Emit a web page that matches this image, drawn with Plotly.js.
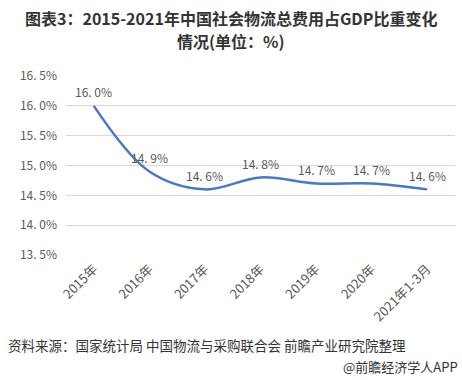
<!DOCTYPE html>
<html><head><meta charset="utf-8">
<script src="https://cdn.plot.ly/plotly-3.0.1.min.js"></script>
<style>body{margin:0;background:#fff}#c{width:462px;height:380px}</style>
</head><body><div id="c"></div>
<script>
const categories = ["2015年","2016年","2017年","2018年","2019年","2020年","2021年1-3月"];
const values = [16.0, 14.9, 14.6, 14.8, 14.7, 14.7, 14.6];
const tickVals = [13.5, 14.0, 14.5, 15.0, 15.5, 16.0, 16.5];
const tickText = ["13. 5%","14. 0%","14. 5%","15. 0%","15. 5%","16. 0%","16. 5%"];
const labels = values.map(v => v.toFixed(1).replace('.', '. ') + '%');

const font = "'Noto Sans CJK SC', 'Liberation Sans', sans-serif";
const trace = {
  x: categories, y: values, type: 'scatter', mode: 'lines',
  line: {shape: 'spline', smoothing: 1, color: '#4a78c2', width: 2.5},
  hoverinfo: 'none'
};
const H = 179; // plot height in px
const py = px => (380 - 125 - px) / H;
const dataLabels = categories.map((c, i) => ({
  x: c, y: values[i], xref: 'x', yref: 'y', text: labels[i], showarrow: false,
  yshift: 14, yanchor: 'middle', font: {family: font, size: 12, color: '#595959'}
}));
const layout = {
  width: 462, height: 380,
  margin: {l: 66, r: 7, t: 76, b: 125},
  paper_bgcolor: '#fff', plot_bgcolor: '#fff',
  showlegend: false,
  xaxis: {type: 'category', range: [-0.5, 6.5], showgrid: false, zeroline: false, showline: false,
    ticks: '', tickangle: -45, ticklabelstandoff: 3,
    tickfont: {family: font, size: 13, color: '#595959'}, fixedrange: true},
  yaxis: {range: [13.5, 16.5], tickvals: tickVals, ticktext: tickText, showgrid: true,
    gridcolor: '#d9d9d9', gridwidth: 1, zeroline: false, showline: false, ticks: '', ticklen: 0,
    ticklabelstandoff: 8,
    tickfont: {family: font, size: 12, color: '#595959'}, fixedrange: true},
  annotations: dataLabels.concat([
    {text: '<b>图表3：2015-2021年中国社会物流总费用占GDP比重变化</b>', xref: 'paper', yref: 'paper',
     x: (231 - 66) / 389, xanchor: 'center', y: py(18), yanchor: 'middle', showarrow: false,
     font: {family: font, size: 16, color: '#333'}},
    {text: '<b>情况(单位：%)</b>', xref: 'paper', yref: 'paper',
     x: (231 - 66) / 389, xanchor: 'center', y: py(41), yanchor: 'middle', showarrow: false,
     font: {family: font, size: 16, color: '#333'}},
    {text: '资料来源：国家统计局 中国物流与采购联合会 前瞻产业研究院整理', xref: 'paper', yref: 'paper',
     x: -66/389, xanchor: 'left', y: py(345), yanchor: 'middle', showarrow: false,
     font: {family: font, size: 13.5, color: '#333'}, xshift: 6},
    {text: '@前瞻经济学人APP', xref: 'paper', yref: 'paper', x: 1, xanchor: 'right',
     y: py(366), yanchor: 'middle', showarrow: false, xshift: 5,
     font: {family: font, size: 13, color: '#333'}}
  ])
};
Plotly.newPlot('c', [trace], layout, {staticPlot: true});
</script></body></html>
